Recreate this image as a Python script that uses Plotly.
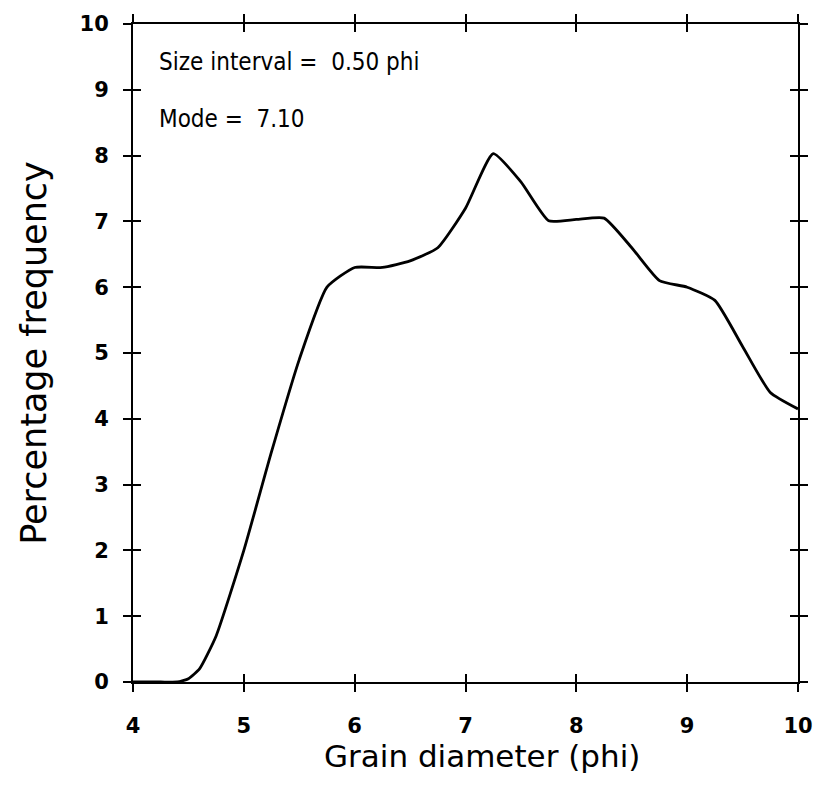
import plotly.graph_objects as go

# Data
grain_phi = [4.0, 4.25, 4.4, 4.5, 4.6, 4.75, 5.0, 5.25, 5.5, 5.75, 6.0, 6.25, 6.5, 6.75,
             7.0, 7.25, 7.5, 7.75, 8.0, 8.25, 8.5, 8.75, 9.0, 9.25, 9.5, 9.75, 10.0]
pct_freq = [0.0, 0.0, 0.0, 0.05, 0.2, 0.7, 2.0, 3.5, 4.9, 6.0, 6.3, 6.3, 6.4, 6.6,
            7.2, 8.03, 7.6, 7.01, 7.03, 7.05, 6.6, 6.1, 6.0, 5.8, 5.1, 4.4, 4.15]
x_ticks = [4, 5, 6, 7, 8, 9, 10]
y_ticks = [0, 1, 2, 3, 4, 5, 6, 7, 8, 9, 10]
x_title = "Grain diameter (phi)"
y_title = "Percentage frequency"
notes = ["Size interval =  0.50 phi", "Mode =  7.10"]

FONT = "DejaVu Sans"
FONT_NARROW = "DejaVu Sans Condensed, DejaVu Sans"

fig = go.Figure()
fig.add_trace(go.Scatter(x=grain_phi, y=pct_freq, mode="lines",
                         line=dict(color="black", width=2.8, shape="spline", smoothing=0.5),
                         showlegend=False, hoverinfo="skip"))
# invisible trace on overlay axes for inside ticks
fig.add_trace(go.Scatter(x=[4, 10], y=[0, 10], xaxis="x2", yaxis="y2", mode="lines",
                         line=dict(width=0), showlegend=False, hoverinfo="skip"))

axis_common = dict(showgrid=False, zeroline=False, showline=True, linecolor="black",
                   linewidth=2, tickcolor="black", tickwidth=2, ticklen=8, mirror="ticks")

tickfont = dict(family=FONT, size=21, color="black", weight="bold")

fig.update_layout(
    width=830, height=789,
    margin=dict(l=133, r=32, t=20, b=107),
    plot_bgcolor="white", paper_bgcolor="white",
    xaxis=dict(range=[4, 10], tickvals=x_ticks, ticks="outside", tickfont=tickfont,
               ticklabelstandoff=16, **axis_common),
    yaxis=dict(range=[0, 10], tickvals=y_ticks, ticks="outside", tickfont=tickfont,
               ticklabelstandoff=10,
               title=dict(text=y_title,
                          font=dict(family=FONT, size=35, color="black"), standoff=22),
               **axis_common),
    xaxis2=dict(range=[4, 10], tickvals=x_ticks, ticks="inside", overlaying="x",
                showticklabels=False, **axis_common),
    yaxis2=dict(range=[0, 10], tickvals=y_ticks, ticks="inside", overlaying="y",
                showticklabels=False, **axis_common),
)

fig.add_annotation(text=x_title, xref="paper", yref="paper", x=0.525, y=-0.112,
                   xanchor="center", yanchor="middle", showarrow=False,
                   font=dict(family=FONT, size=31, color="black"))

for i, txt in enumerate(notes):
    fig.add_annotation(text=txt, xref="paper", yref="paper", x=0.036, y=0.943 - i * 0.088,
                       xanchor="left", yanchor="middle", showarrow=False,
                       font=dict(family=FONT_NARROW, size=24, color="black"))

fig.write_html("out.html")
